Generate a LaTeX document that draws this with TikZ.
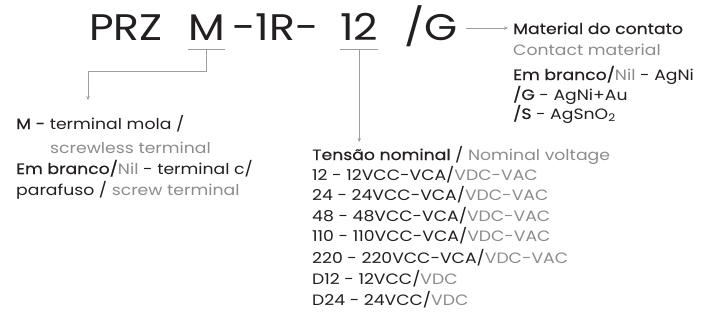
\documentclass[tikz,border=0pt]{standalone}
\usepackage{fontspec}
\setmainfont[FakeStretch=1.15]{Poppins}
\newfontfamily\med[FakeStretch=1.15,FakeBold=0.5]{Poppins}
\usepackage{xcolor}
\usetikzlibrary{arrows.meta}
\definecolor{ink}{HTML}{231F20}
\definecolor{lgrey}{HTML}{8C8C8C}
\definecolor{wiregrey}{HTML}{9E9E9E}
\newcommand{\en}[1]{\textcolor{lgrey}{#1}}

\begin{document}
\begin{tikzpicture}[x=1pt,y=-1pt]
    \tikzstyle{code}=[inner sep=0pt,anchor=base west,text=ink,font=\fontsize{37}{37}\selectfont]
    \tikzstyle{txt}=[inner sep=0pt,anchor=base west,text=ink,font=\fontsize{15}{17}\selectfont]
    \tikzstyle{wire}=[draw=wiregrey,line width=0.9pt]
    \tikzstyle{tip}=[-{Stealth[length=4pt,width=3.5pt]}]
    \useasboundingbox (0,0) rectangle (707,327);
    % part number
    \node[code] (prz) at (89,40) {PRZ};
    \node[code] (m) at (188,40) {M};
    \node[code] (coil) at (232,40) {-1R-};
    \node[code] (v) at (340,40) {12};
    \node[code] (g) at (404,40) {/G};
    % contact material
    \node[txt] (mat) at (513,34) {\med Material do contato};
    \node[txt] (matEn) at (513,55) {\en{Contact material}};
    \node[txt] (nil) at (513,80) {{\med Em branco/}\en{Nil} - AgNi};
    \node[txt] (gold) at (513,100) {{\med /G} - AgNi+Au};
    \node[txt] (tin) at (513,119) {{\med /S} - AgSnO\textsubscript{2}};
    % terminal
    \node[txt] (mola) at (16,129) {{\med M -} terminal mola /};
    \node[txt] (molaEn) at (50,153) {\en{screwless terminal}};
    \node[txt] (screw) at (16,174) {{\med Em branco/}\en{Nil} - terminal c/};
    \node[txt] (screwEn) at (16,195) {parafuso / \en{screw terminal}};
    % coil voltage
    \node[txt] (volt) at (312,160) {{\med Tensão nominal} / \en{Nominal voltage}};
    \node[txt] (v12) at (312,180) {12 - 12VCC-VCA/\en{VDC-VAC}};
    \node[txt] (v24) at (312,200) {24 - 24VCC-VCA/\en{VDC-VAC}};
    \node[txt] (v48) at (312,221) {48 - 48VCC-VCA/\en{VDC-VAC}};
    \node[txt] (v110) at (312,241) {110 - 110VCC-VCA/\en{VDC-VAC}};
    \node[txt] (v220) at (312,263) {220 - 220VCC-VCA/\en{VDC-VAC}};
    \node[txt] (d12) at (312,284) {D12 - 12VCC/\en{VDC}};
    \node[txt] (d24) at (312,305) {D24 - 24VCC/\en{VDC}};
    % leaders
    \coordinate (mu) at ([yshift=-9pt]m.base);
    \coordinate (mdrop) at (88,100);
    \draw[wire] ([yshift=-9pt]m.base west) -- ([yshift=-9pt]m.base east);
    \draw[wire,tip] (mu) -- ++(0,22) -| (mdrop);
    \coordinate (vu) at ([yshift=-9pt]v.base);
    \coordinate (vdrop) at (0,142);
    \draw[wire] ([yshift=-9pt]v.base west) -- ([yshift=-9pt]v.base east);
    \draw[wire,tip] (vu) -- (vu |- vdrop);
    \path (g.base east) ++(8,-12) coordinate (gstart);
    \draw[wire,tip,shorten >=5pt] (gstart) -- (gstart -| mat.west);
\end{tikzpicture}
\end{document}
